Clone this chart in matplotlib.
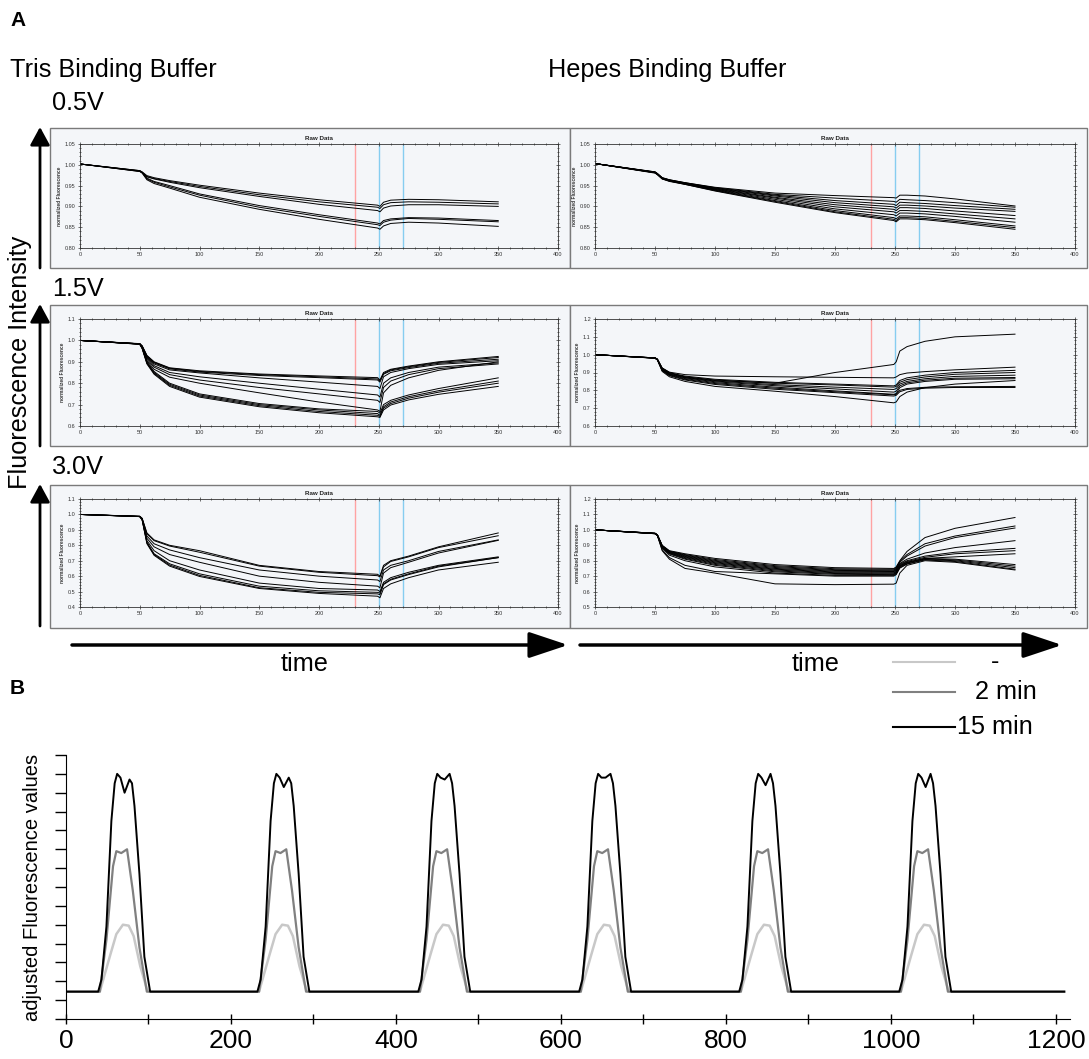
import matplotlib
matplotlib.use('Agg')
import matplotlib.pyplot as plt
from matplotlib.patches import Rectangle
from matplotlib.ticker import MultipleLocator, FormatStrFormatter

plt.rcParams['font.family'] = ['Liberation Sans', 'DejaVu Sans']

# ---------------- Panel A data (key times and curve values) ----------
T = [0, 50, 52, 56, 62, 75, 100, 150, 200, 249, 251, 254, 260, 275, 300, 350]

tris_05 = [
    [1.002, 0.986, 0.983, 0.974, 0.969, 0.962, 0.951, 0.932, 0.916, 0.903, 0.900, 0.910, 0.915, 0.917, 0.916, 0.911],
    [1.002, 0.985, 0.982, 0.972, 0.967, 0.960, 0.948, 0.928, 0.911, 0.898, 0.895, 0.904, 0.909, 0.911, 0.910, 0.906],
    [1.002, 0.984, 0.981, 0.971, 0.966, 0.958, 0.945, 0.924, 0.905, 0.890, 0.887, 0.896, 0.901, 0.904, 0.904, 0.900],
    [1.002, 0.986, 0.982, 0.968, 0.960, 0.950, 0.930, 0.902, 0.880, 0.860, 0.858, 0.866, 0.870, 0.873, 0.872, 0.866],
    [1.002, 0.985, 0.981, 0.966, 0.958, 0.947, 0.927, 0.898, 0.876, 0.856, 0.854, 0.862, 0.867, 0.871, 0.869, 0.863],
    [1.002, 0.984, 0.980, 0.964, 0.955, 0.944, 0.922, 0.893, 0.869, 0.848, 0.845, 0.853, 0.859, 0.862, 0.860, 0.852],
]

hepes_05 = [
    [1.003, .983, .979, .969, .964, .957, .946, .932, .926, .921, .920, .927, .927, .925, .918, .901],
    [1.003, .983, .979, .969, .964, .957, .945, .929, .920, .912, .910, .917, .916, .914, .909, .898],
    [1.003, .982, .978, .968, .963, .956, .944, .927, .914, .905, .902, .910, .909, .907, .902, .893],
    [1.003, .982, .978, .968, .963, .956, .943, .925, .909, .899, .896, .903, .903, .901, .896, .888],
    [1.003, .982, .978, .968, .963, .955, .942, .922, .904, .893, .890, .897, .897, .895, .889, .878],
    [1.003, .982, .978, .967, .962, .955, .941, .920, .899, .887, .884, .890, .890, .888, .882, .870],
    [1.003, .981, .977, .967, .962, .954, .940, .917, .894, .880, .877, .884, .884, .882, .876, .862],
    [1.003, .981, .977, .967, .961, .954, .939, .914, .890, .873, .870, .877, .877, .875, .868, .853],
    [1.003, .981, .977, .966, .961, .953, .938, .912, .887, .869, .866, .873, .873, .871, .864, .849],
    [1.003, .980, .976, .966, .960, .953, .937, .910, .885, .866, .863, .870, .870, .868, .861, .845],
]

tris_15 = [
    [1.0, .985, .975, .930, .900, .872, .858, .843, .834, .826, .815, .850, .865, .880, .900, .925],
    [1.0, .984, .974, .928, .898, .870, .855, .840, .830, .820, .810, .845, .862, .877, .897, .920],
    [1.0, .984, .973, .925, .895, .867, .852, .836, .826, .815, .805, .842, .858, .873, .893, .912],
    [1.0, .984, .972, .922, .890, .862, .848, .825, .805, .785, .775, .830, .850, .868, .888, .905],
    [1.0, .984, .970, .918, .882, .850, .830, .800, .772, .745, .735, .800, .825, .850, .875, .895],
    [1.0, .983, .968, .912, .875, .840, .815, .780, .750, .720, .710, .780, .810, .840, .868, .890],
    [1.0, .983, .966, .905, .865, .828, .800, .755, .712, .675, .668, .755, .790, .825, .860, .900],
    [1.0, .983, .965, .900, .855, .800, .750, .705, .680, .668, .660, .700, .720, .745, .775, .825],
    [1.0, .983, .964, .896, .850, .795, .745, .700, .675, .658, .650, .690, .712, .737, .765, .810],
    [1.0, .982, .963, .893, .846, .790, .740, .695, .668, .650, .645, .683, .705, .730, .758, .800],
    [1.0, .982, .962, .890, .842, .785, .735, .690, .662, .643, .640, .675, .698, .722, .748, .785],
]

hepes_15 = [
    [1.0, .982, .975, .925, .900, .875, .855, .840, .900, .945, .960, 1.02, 1.045, 1.075, 1.100, 1.115],
    [1.0, .982, .975, .925, .902, .888, .880, .876, .873, .870, .875, .888, .897, .905, .915, .930],
    [1.0, .982, .974, .922, .898, .880, .862, .845, .835, .825, .830, .855, .870, .885, .900, .912],
    [1.0, .982, .974, .920, .895, .876, .858, .840, .830, .818, .822, .845, .860, .875, .890, .900],
    [1.0, .981, .973, .918, .892, .872, .852, .832, .818, .805, .810, .835, .850, .865, .878, .885],
    [1.0, .981, .973, .916, .890, .870, .848, .826, .808, .790, .795, .825, .842, .857, .868, .872],
    [1.0, .981, .972, .914, .888, .866, .843, .818, .797, .778, .782, .815, .835, .850, .862, .865],
    [1.0, .981, .972, .912, .885, .862, .838, .812, .792, .775, .778, .800, .810, .817, .820, .822],
    [1.0, .980, .971, .910, .882, .858, .833, .806, .787, .768, .772, .792, .805, .812, .816, .816],
    [1.0, .980, .970, .906, .876, .850, .822, .795, .765, .730, .735, .765, .790, .815, .835, .855],
]

tris_30 = [
    [1.0, .988, .975, .880, .835, .800, .765, .670, .630, .612, .600, .670, .700, .730, .790, .880],
    [1.0, .988, .974, .875, .830, .795, .755, .665, .625, .603, .595, .660, .695, .725, .785, .862],
    [1.0, .987, .972, .860, .810, .770, .720, .640, .600, .575, .565, .640, .670, .700, .760, .835],
    [1.0, .987, .970, .845, .790, .740, .690, .600, .560, .535, .525, .620, .655, .690, .750, .832],
    [1.0, .987, .968, .830, .765, .700, .640, .555, .520, .510, .500, .560, .590, .625, .670, .725],
    [1.0, .986, .966, .820, .745, .680, .615, .535, .505, .495, .490, .550, .580, .615, .665, .720],
    [1.0, .986, .965, .815, .740, .672, .605, .525, .495, .485, .480, .545, .575, .610, .660, .720],
    [1.0, .986, .964, .810, .735, .665, .598, .520, .488, .470, .460, .520, .550, .590, .640, .690],
]

hepes_30 = [
    [1.0, .978, .968, .900, .865, .845, .815, .775, .755, .750, .760, .800, .860, .950, 1.010, 1.080],
    [1.0, .978, .968, .898, .862, .840, .808, .768, .748, .745, .755, .795, .840, .910, .960, 1.025],
    [1.0, .978, .967, .896, .860, .836, .802, .762, .742, .740, .750, .790, .830, .895, .950, 1.012],
    [1.0, .977, .967, .895, .858, .832, .797, .756, .737, .735, .745, .782, .810, .850, .885, .930],
    [1.0, .977, .966, .893, .855, .828, .792, .750, .732, .730, .740, .778, .800, .830, .855, .880],
    [1.0, .977, .966, .891, .852, .824, .787, .745, .727, .725, .735, .772, .795, .822, .845, .865],
    [1.0, .976, .965, .889, .850, .820, .782, .740, .722, .720, .730, .768, .790, .815, .825, .845],
    [1.0, .976, .965, .887, .847, .815, .776, .734, .717, .715, .725, .765, .788, .815, .810, .775],
    [1.0, .976, .964, .885, .844, .810, .770, .728, .712, .710, .720, .760, .785, .812, .805, .765],
    [1.0, .975, .964, .880, .836, .800, .760, .720, .705, .705, .715, .755, .780, .808, .800, .755],
    [1.0, .975, .963, .870, .820, .770, .730, .715, .700, .700, .710, .752, .778, .805, .795, .745],
    [1.0, .975, .962, .865, .810, .750, .720, .650, .645, .648, .655, .720, .770, .800, .790, .740],
]

# ---------------- Panel B data ----------------
peak_centers = [71, 264, 459, 654, 848, 1042]
baseline = 1.45
x_end = 1210
black_dx = [-32, -28, -22, -16, -12, -9, -5, 0, 6, 9, 12, 18, 24, 31]
black_y = [1.45, 2.1, 4.9, 10.5, 12.5, 13.0, 12.8, 12.0, 12.7, 12.5, 11.3, 7.7, 3.3, 1.45]
black_dip = [12.0, 12.3, 12.7, 12.8, 12.4, 12.3]
black_lobe2 = [12.7, 12.8, 13.0, 13.0, 13.0, 13.0]
gray_dx = [-30, -22, -14, -10, -4, 3, 10, 18, 27]
gray_y = [1.45, 4.2, 8.1, 8.9, 8.8, 9.0, 6.8, 3.8, 1.45]
light_dx = [-30, -18, -10, -2, 5, 11, 19, 27, 31]
light_y = [1.45, 3.3, 4.5, 5.0, 4.95, 4.4, 2.8, 1.6, 1.45]
legend_labels = ['-', '2 min', '15 min']
series_colors = ['#c8c8c8', '#808080', '#000000']

# ---------------- Layout ----------------
W, H = 1089, 1059
fig = plt.figure(figsize=(W / 100, H / 100), dpi=100)


def px_axes(x0, y0, x1, y1, **kw):
    return fig.add_axes([x0 / W, 1 - y1 / H, (x1 - x0) / W, (y1 - y0) / H], **kw)


ov = px_axes(0, 0, W, H)
ov.set_xlim(0, W)
ov.set_ylim(H, 0)
ov.axis('off')
ov.set_zorder(-5)

BIG = 18.2
ov.text(10, 20, 'A', fontsize=15, fontweight='bold', ha='left', va='center')
ov.text(10, 688, 'B', fontsize=15, fontweight='bold', ha='left', va='center')
ov.text(10, 70, 'Tris Binding Buffer', fontsize=BIG, ha='left', va='center')
ov.text(548, 70, 'Hepes Binding Buffer', fontsize=BIG, ha='left', va='center')
ov.text(52, 103, '0.5V', fontsize=BIG, ha='left', va='center')
ov.text(52, 289, '1.5V', fontsize=BIG, ha='left', va='center')
ov.text(52, 467, '3.0V', fontsize=BIG, ha='left', va='center')
ov.text(20, 362, 'Fluorescence Intensity', fontsize=BIG, rotation=90, ha='center', va='center')
ov.text(305, 664, 'time', fontsize=BIG, ha='center', va='center')
ov.text(816, 664, 'time', fontsize=BIG, ha='center', va='center')

arrow_v = dict(arrowstyle='-|>,head_length=0.55,head_width=0.3', lw=2.0, color='black',
               mutation_scale=20, shrinkA=0, shrinkB=0)
for (yb, yt) in [(268, 127), (446, 304), (626, 484)]:
    ov.annotate('', xy=(40, yt), xytext=(40, yb), arrowprops=arrow_v)
arrow_h = dict(arrowstyle='-|>,head_length=1.2,head_width=0.4', lw=2.5, color='black',
               mutation_scale=20, shrinkA=0, shrinkB=0)
ov.annotate('', xy=(568, 645), xytext=(72, 645), arrowprops=arrow_h)
ov.annotate('', xy=(1062, 645), xytext=(580, 645), arrowprops=arrow_h)

# legend
for lab, col, ly, tx in zip(legend_labels, series_colors, [662, 692, 727], [991, 975, 957]):
    ov.plot([893, 955], [ly, ly], color=col, lw=1.5)
    ov.text(tx, ly, lab, fontsize=BIG, ha='left', va='center')

# ---------------- Panel A ----------------
frame_cols = [(50, 570), (570, 1087)]
inner_cols = [(80, 558), (595, 1075)]
frame_rows = [(128, 268), (305, 446), (485, 628)]
inner_rows = [(144, 248), (319, 426), (499, 607)]

panels = [
    (0, 0, tris_05, (0.80, 1.05), 0.05, '%.2f'),
    (0, 1, hepes_05, (0.80, 1.05), 0.05, '%.2f'),
    (1, 0, tris_15, (0.6, 1.1), 0.1, '%.1f'),
    (1, 1, hepes_15, (0.6, 1.2), 0.1, '%.1f'),
    (2, 0, tris_30, (0.4, 1.1), 0.1, '%.1f'),
    (2, 1, hepes_30, (0.5, 1.2), 0.1, '%.1f'),
]

for r, c, curves, ylim, ystep, fmt in panels:
    fx0, fx1 = frame_cols[c]
    fy0, fy1 = frame_rows[r]
    ov.add_patch(Rectangle((fx0, fy0), fx1 - fx0, fy1 - fy0, facecolor='#f4f6f9',
                           edgecolor='#7a7a7a', lw=1.0))
    ix0, ix1 = inner_cols[c]
    iy0, iy1 = inner_rows[r]
    ax = px_axes(ix0, iy0, ix1, iy1)
    ax.set_facecolor('#f4f6f9')
    ax.axvline(230, color='#ffa3a3', lw=1.0, zorder=1)
    ax.axvline(250, color='#86cdf0', lw=1.0, zorder=1)
    ax.axvline(270, color='#86cdf0', lw=1.0, zorder=1)
    for cv in curves:
        ax.plot(T, cv, color='black', lw=0.7, zorder=2)
    ax.set_xlim(0, 400)
    ax.set_ylim(*ylim)
    ax.xaxis.set_major_locator(MultipleLocator(50))
    ax.xaxis.set_minor_locator(MultipleLocator(10))
    ax.yaxis.set_major_locator(MultipleLocator(ystep))
    ax.yaxis.set_minor_locator(MultipleLocator(ystep / 5))
    ax.yaxis.set_major_formatter(FormatStrFormatter(fmt))
    ax.tick_params(which='both', direction='inout', top=True, right=True, labelsize=4,
                   colors='#333333', width=0.5, pad=1.5)
    ax.tick_params(which='major', length=3)
    ax.tick_params(which='minor', length=1.5)
    for sp in ax.spines.values():
        sp.set_linewidth(0.6)
        sp.set_color('#333333')
    ax.set_title('Raw Data', fontsize=4.5, fontweight='bold', pad=3, color='#222222')
    ax.set_ylabel('normalized Fluorescence', fontsize=3.5, fontweight='bold', labelpad=2,
                  color='#333333')

# ---------------- Panel B ----------------
axb = px_axes(66, 755, 1070, 1019)


def build(dx, yv, mods=None):
    xs, ys = [0.0], [baseline]
    for i, cen in enumerate(peak_centers):
        yy = list(yv)
        if mods is not None:
            for idx, vals in mods.items():
                yy[idx] = vals[i]
        xs.extend([cen + d for d in dx])
        ys.extend(yy)
    xs.append(x_end)
    ys.append(baseline)
    return xs, ys


xl, yl = build(light_dx, light_y)
xg, yg = build(gray_dx, gray_y)
xk, yk = build(black_dx, black_y, {7: black_dip, 8: black_lobe2})
axb.plot(xl, yl, color=series_colors[0], lw=1.8)
axb.plot(xg, yg, color=series_colors[1], lw=1.6)
axb.plot(xk, yk, color=series_colors[2], lw=1.4)

axb.set_xlim(0, 1217)
axb.set_ylim(0, 14)
axb.spines['top'].set_visible(False)
axb.spines['right'].set_visible(False)
axb.xaxis.set_major_locator(MultipleLocator(200))
axb.xaxis.set_minor_locator(MultipleLocator(100))
axb.yaxis.set_major_locator(MultipleLocator(1))
axb.set_yticklabels([])
axb.tick_params(axis='y', direction='out', length=8, width=1)
axb.tick_params(axis='x', which='both', direction='inout', length=7, width=1, labelsize=19, pad=4)
axb.set_ylabel('adjusted Fluorescence values', fontsize=14.5, labelpad=6)

fig.savefig('out.png', dpi=100)
